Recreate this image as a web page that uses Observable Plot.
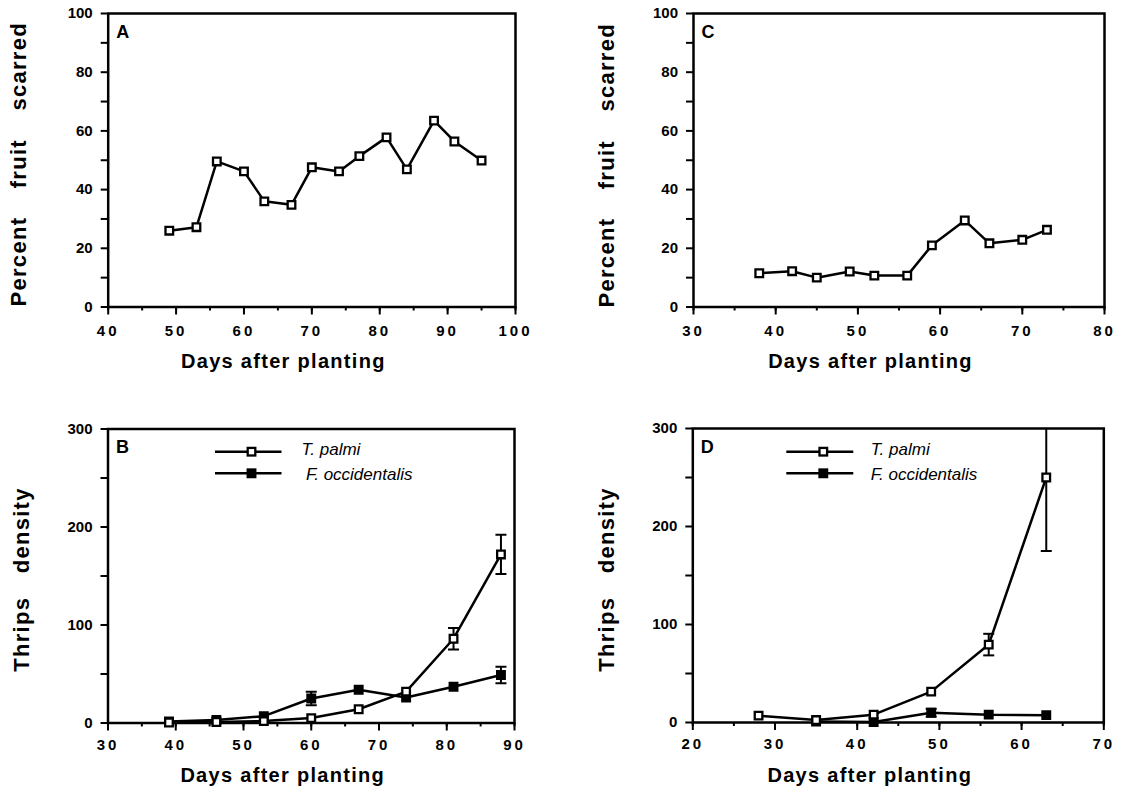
<!DOCTYPE html>
<html>
<head>
<meta charset="utf-8">
<script src="https://cdn.jsdelivr.net/npm/d3@7"></script>
<script src="https://cdn.jsdelivr.net/npm/@observablehq/plot@0.6"></script>
<style>
  html, body { margin: 0; padding: 0; background: #fff; }
  #chart { position: relative; width: 1127px; height: 793px; background: #fff; overflow: hidden; }
  #chart svg { position: absolute; overflow: visible; }
  #chart [aria-label="x-axis tick label"] text { letter-spacing: 3px; }
</style>
</head>
<body>
<div id="chart"></div>
<script>
// ---------- data ----------
// Panel A: percent fruit scarred
const daysA = [49, 53, 56, 60, 63, 67, 70, 74, 77, 81, 84, 88, 91, 95];
const scarredA = [26, 27.2, 49.6, 46.2, 36, 34.8, 47.6, 46.2, 51.4, 57.8, 46.9, 63.5, 56.4, 49.9];
// Panel C: percent fruit scarred
const daysC = [38, 42, 45, 49, 52, 56, 59, 63, 66, 70, 73];
const scarredC = [11.5, 12.2, 10, 12.1, 10.7, 10.7, 21, 29.5, 21.7, 22.9, 26.3];
// Panel B: thrips density
const daysB = [39, 46, 53, 60, 67, 74, 81, 88];
const palmiB = [0.5, 1, 2, 5, 14, 32, 86, 172];
const palmiSeB = [0, 0, 0, 0, 0, 0, 11, 20];
const occB = [1.5, 3, 7, 25, 34, 26, 37, 49];
const occSeB = [0, 0, 0, 7, 0, 0, 0, 8.5];
// Panel D: thrips density
const daysPalmiD = [28, 35, 42, 49, 56, 63];
const palmiD = [7, 2.5, 8, 31.5, 79.5, 250];
const palmiSeD = [0, 0, 0, 0, 11, 75];
const daysOccD = [35, 42, 49, 56, 63];
const occD = [1, 0.5, 10, 8, 7.5];
const occSeD = [0, 0, 4, 0, 0];
// labels and ticks
const panelLetters = ["A", "B", "C", "D"];
const legendLabels = ["T. palmi", "F. occidentalis"];
const xTitle = "Days after planting";
const yTitleTop = "Percent fruit scarred";
const yTitleBottom = "Thrips density";
const xTicksA = [40, 50, 60, 70, 80, 90, 100];
const xTicksB = [30, 40, 50, 60, 70, 80, 90];
const xTicksC = [30, 40, 50, 60, 70, 80];
const xTicksD = [20, 30, 40, 50, 60, 70];
const yTicksTop = [0, 20, 40, 60, 80, 100];
const yMinorTop = [0, 10, 20, 30, 40, 50, 60, 70, 80, 90, 100];
const yTicksBottom = [0, 100, 200, 300];
const yMinorBottom = [0, 50, 100, 150, 200, 250, 300];

const FONT = '"Liberation Sans", Arial, Helvetica, sans-serif';
const minorOf = (ticks) => d3.range(ticks[0], ticks[ticks.length - 1] + 0.01, 5);

const capSymbol = {
  draw(ctx, size) { const w = Math.sqrt(size); ctx.moveTo(-w / 2, 0); ctx.lineTo(w / 2, 0); }
};

function seriesMarks(days, vals, ses, filled) {
  const data = days.map((d, i) => ({day: d, v: vals[i], se: ses ? ses[i] : 0}));
  const err = data.filter(d => d.se > 0);
  return [
    Plot.line(data, {x: "day", y: "v", stroke: "black", strokeWidth: 2.5}),
    Plot.ruleX(err, {x: "day", y1: d => d.v - d.se, y2: d => d.v + d.se, stroke: "black", strokeWidth: 2, clip: true}),
    Plot.dot(err, {x: "day", y: d => d.v - d.se, symbol: capSymbol, r: 6.2, fill: "none", stroke: "black", strokeWidth: 2, clip: true}),
    Plot.dot(err, {x: "day", y: d => d.v + d.se, symbol: capSymbol, r: 6.2, fill: "none", stroke: "black", strokeWidth: 2, clip: true}),
    Plot.dot(data, {x: "day", y: "v", symbol: "square", r: 4.3, fill: filled ? "black" : "white", stroke: "black", strokeWidth: 2.3})
  ];
}

function legendGlyphs(cfg) {
  return (index, scales, values, dimensions) => {
    const ml = dimensions.marginLeft, mt = dimensions.marginTop;
    const g = d3.create("svg:g").attr("aria-label", "legend");
    cfg.rows.forEach(r => {
      const y = mt + r.y;
      g.append("line").attr("x1", ml + cfg.x1).attr("x2", ml + cfg.x2)
        .attr("y1", y).attr("y2", y).attr("stroke", "black").attr("stroke-width", 2.5);
      const s = 7.6;
      g.append("rect").attr("x", ml + cfg.mx - s / 2).attr("y", y - s / 2)
        .attr("width", s).attr("height", s)
        .attr("fill", r.filled ? "black" : "white").attr("stroke", "black").attr("stroke-width", 2.3);
    });
    return g.node();
  };
}

function panel(o) {
  const marks = [
    Plot.axisY({ticks: o.yMinor, tickSize: 7, strokeWidth: 2, fill: "none", tickFormat: () => "", label: null}),
    Plot.axisY({ticks: o.yTicks, tickSize: 0, tickPadding: 15.5, fontSize: 15, fontWeight: "bold", fill: "black", label: null, fontFamily: FONT}),
    Plot.axisX({ticks: minorOf(o.xTicks), tickSize: 4, strokeWidth: 2, fill: "none", tickFormat: () => "", label: null}),
    Plot.axisX({ticks: o.xTicks, tickSize: 8, strokeWidth: 2, tickPadding: o.xPad, fontSize: 15, fontWeight: "bold", fill: "black", label: null, fontFamily: FONT}),
    Plot.frame({stroke: "black", strokeWidth: 2.5}),
    ...o.series,
    Plot.text([o.letter], {frameAnchor: "top-left", dx: 8, dy: 18.5, textAnchor: "start", lineAnchor: "middle", fontSize: 18, fontWeight: "bold", fill: "black", fontFamily: FONT}),
    Plot.text([xTitle], {frameAnchor: "bottom", dx: -28.5, dy: o.xTitleDy, textAnchor: "middle", lineAnchor: "middle", fontSize: 20, fontWeight: "bold", fill: "black", fontFamily: FONT}),
    Plot.text([o.yTitle], {frameAnchor: "left", dx: o.yTitleDx, dy: o.yTitleDy, rotate: -90, textAnchor: "middle", lineAnchor: "middle", fontSize: 22, fontWeight: "bold", fill: "black", fontFamily: FONT})
  ];
  if (o.legend) {
    marks.push(legendGlyphs(o.legend));
    marks.push(Plot.text([legendLabels[0]], {frameAnchor: "top-left", dx: o.legend.tx[0], dy: o.legend.ty[0], textAnchor: "start", lineAnchor: "middle", fontSize: 17, fontStyle: "italic", fill: "black", fontFamily: FONT}));
    marks.push(Plot.text([legendLabels[1]], {frameAnchor: "top-left", dx: o.legend.tx[1], dy: o.legend.ty[1], textAnchor: "start", lineAnchor: "middle", fontSize: 17, fontStyle: "italic", fill: "black", fontFamily: FONT}));
  }
  const svg = Plot.plot({
    width: o.width, height: o.height,
    marginLeft: o.m[0], marginRight: o.m[1], marginTop: o.m[2], marginBottom: o.m[3],
    x: {domain: [o.xTicks[0], o.xTicks[o.xTicks.length - 1]], axis: null, label: null},
    y: {domain: [o.yTicks[0], o.yTicks[o.yTicks.length - 1]], axis: null, label: null},
    style: {fontFamily: FONT, background: "transparent", color: "black", overflow: "visible"},
    marks
  });
  svg.style.left = o.left + "px";
  svg.style.top = o.top + "px";
  d3.select(svg).selectAll("text").each(function () {
    const t = this.textContent;
    if (t === xTitle) d3.select(this).style("letter-spacing", "1.3px");
    if (t === yTitleTop || t === yTitleBottom) d3.select(this).style("letter-spacing", "1.3px").style("word-spacing", o.wordSpacing + "px");
  });
  document.getElementById("chart").appendChild(svg);
}

// Panel A
panel({
  left: 0, top: 0, width: 563, height: 400, m: [107.7, 48, 13, 93.5],
  xTicks: xTicksA, yTicks: yTicksTop, yMinor: yMinorTop, xPad: 10.3,
  letter: panelLetters[0], yTitle: yTitleTop, xTitleDy: 54.4, yTitleDx: -89.7, yTitleDy: 4, wordSpacing: 21,
  series: seriesMarks(daysA, scarredA, null, false)
});
// Panel C
panel({
  left: 563, top: 0, width: 564, height: 400, m: [130, 23, 13, 93.5],
  xTicks: xTicksC, yTicks: yTicksTop, yMinor: yMinorTop, xPad: 10.3,
  letter: panelLetters[2], yTitle: yTitleTop, xTitleDy: 54.4, yTitleDx: -87, yTitleDy: 5, wordSpacing: 21,
  series: seriesMarks(daysC, scarredC, null, false)
});
// Panel B
panel({
  left: 0, top: 400, width: 563, height: 393, m: [107.5, 49, 28.5, 70.5],
  xTicks: xTicksB, yTicks: yTicksBottom, yMinor: yMinorBottom, xPad: 8,
  letter: panelLetters[1], yTitle: yTitleBottom, xTitleDy: 52.7, yTitleDx: -86, yTitleDy: 3.5, wordSpacing: 16,
  series: [...seriesMarks(daysB, occB, occSeB, true), ...seriesMarks(daysB, palmiB, palmiSeB, false)],
  legend: {x1: 107.5, x2: 174, mx: 144, rows: [{y: 23.2, filled: false}, {y: 44.8, filled: true}], tx: [193.5, 198], ty: [21, 45.4]}
});
// Panel D
panel({
  left: 563, top: 400, width: 564, height: 393, m: [129.3, 23.7, 28, 71],
  xTicks: xTicksD, yTicks: yTicksBottom, yMinor: yMinorBottom, xPad: 8,
  letter: panelLetters[3], yTitle: yTitleBottom, xTitleDy: 53, yTitleDx: -86, yTitleDy: 4, wordSpacing: 16,
  series: [...seriesMarks(daysOccD, occD, occSeD, true), ...seriesMarks(daysPalmiD, palmiD, palmiSeD, false)],
  legend: {x1: 94, x2: 161, mx: 131, rows: [{y: 23.7, filled: false}, {y: 45.3, filled: true}], tx: [178, 178], ty: [21.5, 45.9]}
});
</script>
</body>
</html>
